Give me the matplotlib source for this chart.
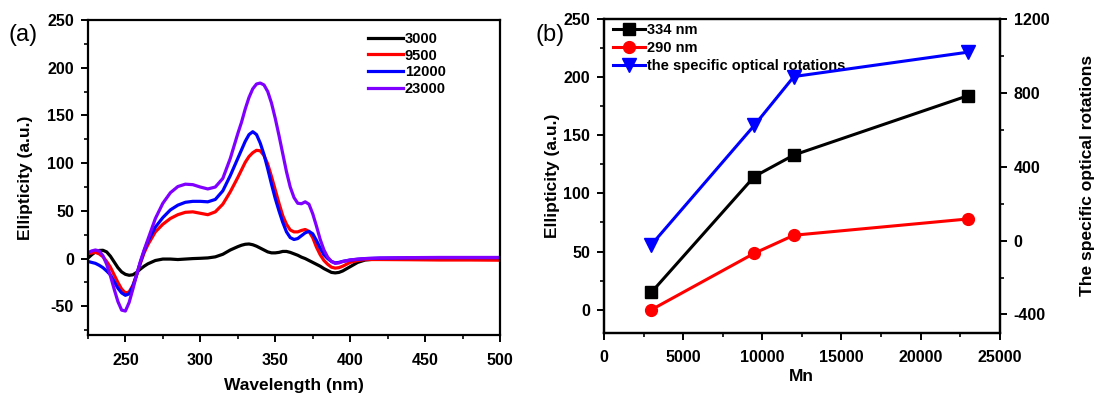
import matplotlib
matplotlib.use("Agg")
import matplotlib.pyplot as plt
from matplotlib.ticker import MultipleLocator

plt.rcParams['font.family'] = ['Liberation Sans', 'DejaVu Sans']
plt.rcParams['font.weight'] = 'bold'
plt.rcParams['axes.unicode_minus'] = False

# ---- Panel (a) data ----
wavelength = [225, 227.5, 230, 232.5, 235, 237.5, 240, 242.5, 245, 247.5, 250, 252.5, 255, 257.5,
              260, 262.5, 265, 270, 275, 280, 285, 290, 295, 300, 305, 310, 315, 320,
              325, 327.5, 330, 332.5, 335, 337.5, 340, 342.5, 345, 347.5, 350, 352.5, 355, 357.5,
              360, 362.5, 365, 367.5, 370, 372.5, 375, 377.5, 380, 382.5, 385, 387.5, 390, 392.5,
              395, 400, 405, 410, 420, 440, 460, 480, 500]
cd_3000 = [0.5, 4, 7, 8.5, 8.7, 7, 2.5, -3.5, -9.5, -14, -16.5, -17.5, -17, -14.5,
           -11, -8, -5.5, -2, -0.5, -0.5, -1, -0.5, 0, 0.3, 0.7, 1.8, 4.5, 9,
           12.5, 14, 15, 15.3, 14.5, 13, 11, 9, 7, 6, 6, 6.5, 7.5, 7.5,
           6.5, 5, 3.5, 1.5, 0, -2, -4, -6, -8, -10.5, -12.5, -14.5, -15, -14.5,
           -13, -8.5, -4, -1.5, 0, 0, 0, 0, 0]
cd_9500 = [5, 6, 6.5, 5, 2, -3, -9, -17, -25, -32, -36, -35, -28, -17,
           -5, 6, 14.5, 28, 36, 42, 46, 48.5, 49, 47.5, 46, 49, 57, 70,
           85, 93, 101, 107, 111, 113.5, 113, 108, 99, 86, 72, 58, 45, 36,
           30, 28, 28, 29.5, 30.5, 28.5, 22, 12, 4, -2, -6, -9, -10, -9.5,
           -8, -4, -2, -1, -1, -1.2, -1.5, -1.5, -1.7]
cd_12000 = [-3, -4, -5, -7, -9.5, -13, -17, -24, -31, -36, -38.5, -37, -29, -17,
            -4, 8, 18, 33, 43, 51, 56, 59, 60, 60, 59.5, 62, 71, 87,
            105, 114, 123, 130, 133, 130, 121, 109, 94, 78, 63, 50, 38, 28,
            22, 20, 21, 24, 27, 28.5, 26, 19, 11, 4, 0, -3, -4.5, -4,
            -3, -1.5, -0.8, 0, 0.5, 0.8, 1, 1, 1]
cd_23000 = [6, 8, 9, 8, 3, -6, -18, -32, -45, -54, -55, -46, -32, -17,
            -3, 9, 20, 42, 58, 69, 75.5, 78, 77.5, 75, 73, 75, 84, 105,
            131, 143, 157, 169, 178, 183, 184, 182, 175, 163, 147, 129, 110, 91,
            75, 64, 58, 57.5, 59.5, 57, 47, 34, 20, 9, 1.5, -3, -5, -4.5,
            -3, -1.5, -0.5, 0, 0.6, 1, 1.2, 1.2, 1.2]
series_labels = ['3000', '9500', '12000', '23000']
series_colors = ['black', '#FF0000', '#0000FF', '#8000FF']

# ---- Panel (b) data ----
mn = [3000, 9500, 12000, 23000]
ell_334 = [15, 114.5, 133, 184]
ell_290 = [0, 48.5, 64, 78]
rotation = [-22, 624, 888, 1020]

fig = plt.figure(figsize=(10.99, 3.94), dpi=100)

tick_fs = 11.5
label_fs = 12.5

def style_axes(ax):
    for s in ax.spines.values():
        s.set_linewidth(1.6)
    ax.tick_params(which='major', direction='out', length=5, width=1.4, labelsize=tick_fs, pad=5)
    ax.tick_params(which='minor', direction='out', length=3, width=1.2)

# ---- Panel (a) ----
ax1 = fig.add_axes([0.080, 0.150, 0.375, 0.799])
for vals, lab, col in zip([cd_3000, cd_9500, cd_12000, cd_23000], series_labels, series_colors):
    ax1.plot(wavelength, vals, color=col, lw=2.3, label=lab, solid_joinstyle='round')
ax1.set_xlim(225, 500)
ax1.set_ylim(-80, 250)
ax1.xaxis.set_major_locator(MultipleLocator(50))
ax1.xaxis.set_minor_locator(MultipleLocator(25))
ax1.yaxis.set_major_locator(MultipleLocator(50))
ax1.yaxis.set_minor_locator(MultipleLocator(25))
style_axes(ax1)
ax1.tick_params(axis='x', which='major', pad=8)
ax1.set_xlabel('Wavelength (nm)', fontsize=label_fs, fontweight='bold', labelpad=7)
ax1.set_ylabel('Ellipticity (a.u.)', fontsize=label_fs, fontweight='bold', labelpad=10)
ax1.legend(loc='upper right', bbox_to_anchor=(0.9, 1.005), frameon=False,
           handlelength=2.4, handletextpad=0.1, labelspacing=0.2,
           prop={'weight': 'bold', 'size': 10.5})
fig.text(0.008, 0.895, '(a)', fontsize=17, fontweight='normal')

# ---- Panel (b) ----
ax2 = fig.add_axes([0.5496, 0.155, 0.360, 0.797])
l1, = ax2.plot(mn, ell_334, color='black', lw=2.2, marker='s', markersize=8, label='334 nm')
l2, = ax2.plot(mn, ell_290, color='#FF0000', lw=2.2, marker='o', markersize=8.5, label='290 nm')
ax2.set_xlim(0, 25000)
ax2.set_ylim(-20, 250)
ax2.xaxis.set_major_locator(MultipleLocator(5000))
ax2.xaxis.set_minor_locator(MultipleLocator(2500))
ax2.yaxis.set_major_locator(MultipleLocator(50))
ax2.yaxis.set_minor_locator(MultipleLocator(25))
style_axes(ax2)
ax2.tick_params(axis='x', which='major', pad=7)
ax2.set_xlabel('Mn', fontsize=label_fs, fontweight='bold', labelpad=3)
ax2.set_ylabel('Ellipticity (a.u.)', fontsize=label_fs, fontweight='bold', labelpad=2)

ax3 = ax2.twinx()
l3, = ax3.plot(mn, rotation, color='#0000FF', lw=2.2, marker='v', markersize=9.5,
               label='the specific optical rotations')
ax3.set_ylim(-500, 1200)
ax3.yaxis.set_major_locator(MultipleLocator(400))
ax3.yaxis.set_minor_locator(MultipleLocator(200))
style_axes(ax3)
ax3.set_ylabel('The specific optical rotations', fontsize=label_fs, fontweight='bold', labelpad=22)

ax2.legend(handles=[l1, l2, l3], loc='upper left', bbox_to_anchor=(-0.01, 1.03), frameon=False,
           handlelength=2.2, handletextpad=0.1, labelspacing=0.3,
           prop={'weight': 'bold', 'size': 10.5})
fig.text(0.487, 0.895, '(b)', fontsize=17, fontweight='normal')

fig.savefig('out.png', dpi=100)
